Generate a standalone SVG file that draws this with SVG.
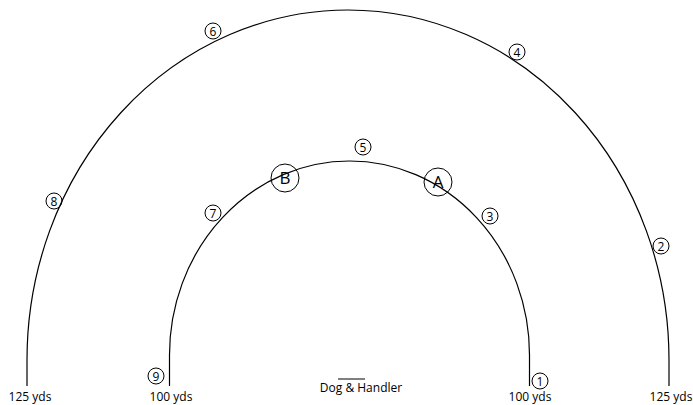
<svg xmlns="http://www.w3.org/2000/svg" width="693" height="405" viewBox="0 0 693 405">
<style>
.arc{fill:none;stroke:#000;stroke-width:1.2}
.c{fill:none;stroke:#000;stroke-width:1}
.t{font-family:"Open Sans","Liberation Sans",sans-serif;font-size:12px;fill:#000;text-anchor:middle}
.n{font-family:"Open Sans","Liberation Sans",sans-serif;font-size:12px;fill:#000;text-anchor:middle}
.L{font-family:"Open Sans","Liberation Sans",sans-serif;font-size:17px;fill:#000;text-anchor:middle}
</style>
<rect width="693" height="405" fill="#fff"/>
<g id="connectors">
<path class="arc" d="M27,386 L27,360 A321,350 0 0 1 669,360 L669,386"/>
<path class="arc" d="M169.5,386 L169.5,355 A180,194 0 0 1 529.5,355 L529.5,386"/>
</g>
<g id="n1"><circle class="c" cx="540" cy="381" r="8"/><text class="n" x="540" y="385.5">1</text></g>
<g id="n2"><circle class="c" cx="661" cy="246" r="8"/><text class="n" x="661" y="250.5">2</text></g>
<g id="n3"><circle class="c" cx="490" cy="216" r="8"/><text class="n" x="490" y="220.5">3</text></g>
<g id="n4"><circle class="c" cx="517" cy="52" r="8"/><text class="n" x="517" y="56.5">4</text></g>
<g id="n5"><circle class="c" cx="363" cy="147" r="8"/><text class="n" x="363" y="151.5">5</text></g>
<g id="n6"><circle class="c" cx="213" cy="31" r="8"/><text class="n" x="213" y="35.5">6</text></g>
<g id="n7"><circle class="c" cx="213" cy="213" r="8"/><text class="n" x="213" y="217.5">7</text></g>
<g id="n8"><circle class="c" cx="54" cy="201" r="8"/><text class="n" x="54" y="205.5">8</text></g>
<g id="n9"><circle class="c" cx="156" cy="376" r="8"/><text class="n" x="156" y="380.5">9</text></g>
<g id="nA"><circle class="c" cx="438" cy="182" r="14"/><text class="L" x="438" y="188">A</text></g>
<g id="nB"><circle class="c" cx="285" cy="178" r="14"/><text class="L" x="285" y="184">B</text></g>
<g id="labels">
<text class="t" x="30" y="401">125 yds</text>
<text class="t" x="171" y="401">100 yds</text>
<text class="t" x="530" y="401">100 yds</text>
<text class="t" x="671" y="401">125 yds</text>
</g>
<g id="dog">
<line x1="338" y1="379" x2="365" y2="379" stroke="#000" stroke-width="1"/>
<text class="t" x="361" y="392">Dog &amp; Handler</text>
</g>
</svg>
